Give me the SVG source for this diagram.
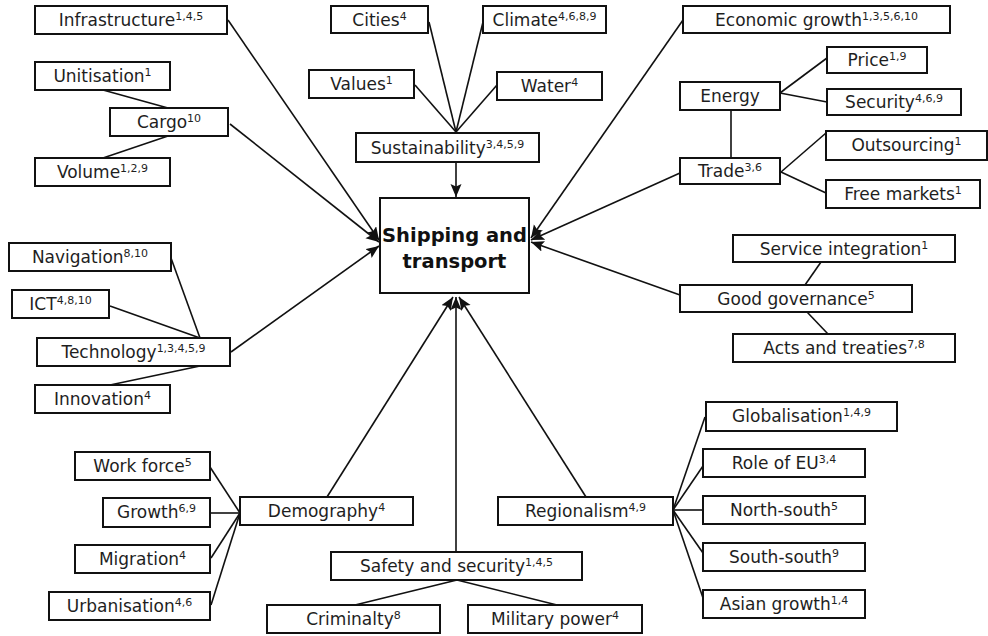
<svg xmlns="http://www.w3.org/2000/svg" width="988" height="636" viewBox="0 0 988 636">
<defs>
<style>
.b{fill:#fff;stroke:#111;stroke-width:2}
.t{font-family:"DejaVu Sans","Liberation Sans",sans-serif;font-size:17px;fill:#1e1e1e;text-anchor:middle}
.s{font-size:11px}
.c line{stroke:#111;stroke-width:1.6}
.a{marker-end:url(#ah)}
.m{font-family:"DejaVu Sans","Liberation Sans",sans-serif;font-size:19.5px;font-weight:bold;fill:#111;text-anchor:middle}
</style>
<marker id="ah" markerUnits="userSpaceOnUse" markerWidth="14" markerHeight="12" refX="13" refY="5.5" orient="auto">
<path d="M0,0 L13,5.5 L0,11 L2.5,5.5 z" fill="#111"/>
</marker>
</defs>
<rect width="988" height="636" fill="#fff"/>
<g id="connectors" class="c">
<line x1="103" y1="90" x2="168" y2="108"/>
<line x1="103" y1="158" x2="168" y2="136"/>
<line class="a" x1="228" y1="20" x2="379" y2="240"/>
<line class="a" x1="230" y1="124" x2="379" y2="242"/>
<line x1="429" y1="22" x2="456" y2="132"/>
<line x1="483" y1="22" x2="456" y2="132"/>
<line x1="415" y1="85" x2="456" y2="132"/>
<line x1="497" y1="85" x2="456" y2="132"/>
<line class="a" x1="456" y1="162" x2="456" y2="197"/>
<line class="a" x1="683" y1="20" x2="531" y2="238"/>
<line x1="780" y1="93" x2="827" y2="58"/>
<line x1="780" y1="93" x2="827" y2="102"/>
<line x1="731" y1="110" x2="731" y2="158"/>
<line x1="781" y1="172" x2="826" y2="133"/>
<line x1="781" y1="172" x2="826" y2="193"/>
<line class="a" x1="680" y1="173" x2="531" y2="240"/>
<line x1="821" y1="262" x2="805" y2="285"/>
<line x1="807" y1="312" x2="828" y2="334"/>
<line class="a" x1="680" y1="295" x2="531" y2="242"/>
<line x1="171" y1="258" x2="200" y2="338"/>
<line x1="110" y1="306" x2="200" y2="338"/>
<line x1="110" y1="385" x2="200" y2="366"/>
<line class="a" x1="231" y1="352" x2="379" y2="246"/>
<line x1="210" y1="467" x2="240" y2="513"/>
<line x1="210" y1="513" x2="240" y2="513"/>
<line x1="211" y1="558" x2="240" y2="513"/>
<line x1="211" y1="605" x2="240" y2="513"/>
<line class="a" x1="327" y1="497" x2="453" y2="297"/>
<line class="a" x1="456" y1="552" x2="456" y2="297"/>
<line x1="457" y1="580" x2="355" y2="605"/>
<line x1="457" y1="580" x2="557" y2="605"/>
<line class="a" x1="586" y1="497" x2="459" y2="297"/>
<line x1="673" y1="510" x2="705" y2="417"/>
<line x1="673" y1="510" x2="703" y2="466"/>
<line x1="673" y1="510" x2="703" y2="510"/>
<line x1="673" y1="510" x2="703" y2="553"/>
<line x1="673" y1="510" x2="703" y2="598"/>
</g>
<g id="center"><rect class="b" x="380" y="198" width="149" height="95"/><text class="m" x="454.5" y="242">Shipping and</text><text class="m" x="454.5" y="268">transport</text></g>
<g id="infrastructure"><rect class="b" x="35" y="6" width="192" height="28"/><text class="t" x="131" y="26">Infrastructure<tspan class="s" dy="-6">1,4,5</tspan></text></g>
<g id="unitisation"><rect class="b" x="35" y="62" width="135" height="28"/><text class="t" x="102.5" y="82">Unitisation<tspan class="s" dy="-6">1</tspan></text></g>
<g id="cargo"><rect class="b" x="110" y="108" width="118" height="28"/><text class="t" x="169" y="128">Cargo<tspan class="s" dy="-6">10</tspan></text></g>
<g id="volume"><rect class="b" x="35" y="158" width="135" height="28"/><text class="t" x="102.5" y="178">Volume<tspan class="s" dy="-6">1,2,9</tspan></text></g>
<g id="cities"><rect class="b" x="331" y="6" width="97" height="27"/><text class="t" x="379.5" y="26">Cities<tspan class="s" dy="-6">4</tspan></text></g>
<g id="climate"><rect class="b" x="483" y="6" width="123" height="27"/><text class="t" x="544.5" y="26">Climate<tspan class="s" dy="-6">4,6,8,9</tspan></text></g>
<g id="values"><rect class="b" x="309" y="70" width="105" height="28"/><text class="t" x="361.5" y="90">Values<tspan class="s" dy="-6">1</tspan></text></g>
<g id="water"><rect class="b" x="497" y="72" width="105" height="28"/><text class="t" x="549.5" y="92">Water<tspan class="s" dy="-6">4</tspan></text></g>
<g id="sustainability"><rect class="b" x="356" y="133" width="183" height="29"/><text class="t" x="447.5" y="154">Sustainability<tspan class="s" dy="-6">3,4,5,9</tspan></text></g>
<g id="economic-growth"><rect class="b" x="683" y="6" width="267" height="27"/><text class="t" x="816.5" y="26">Economic growth<tspan class="s" dy="-6">1,3,5,6,10</tspan></text></g>
<g id="price"><rect class="b" x="827" y="47" width="100" height="26"/><text class="t" x="877" y="66">Price<tspan class="s" dy="-6">1,9</tspan></text></g>
<g id="energy"><rect class="b" x="680" y="82" width="100" height="28"/><text class="t" x="730" y="102">Energy</text></g>
<g id="security"><rect class="b" x="827" y="89" width="134" height="26"/><text class="t" x="894" y="108">Security<tspan class="s" dy="-6">4,6,9</tspan></text></g>
<g id="outsourcing"><rect class="b" x="826" y="131" width="161" height="29"/><text class="t" x="906.5" y="151">Outsourcing<tspan class="s" dy="-6">1</tspan></text></g>
<g id="trade"><rect class="b" x="680" y="158" width="100" height="26"/><text class="t" x="730" y="177">Trade<tspan class="s" dy="-6">3,6</tspan></text></g>
<g id="free-markets"><rect class="b" x="826" y="180" width="154" height="28"/><text class="t" x="903" y="200">Free markets<tspan class="s" dy="-6">1</tspan></text></g>
<g id="service-integration"><rect class="b" x="733" y="235" width="222" height="27"/><text class="t" x="844" y="255">Service integration<tspan class="s" dy="-6">1</tspan></text></g>
<g id="good-governance"><rect class="b" x="680" y="285" width="232" height="27"/><text class="t" x="796" y="305">Good governance<tspan class="s" dy="-6">5</tspan></text></g>
<g id="acts-and-treaties"><rect class="b" x="733" y="334" width="222" height="28"/><text class="t" x="844" y="354">Acts and treaties<tspan class="s" dy="-6">7,8</tspan></text></g>
<g id="navigation"><rect class="b" x="9" y="243" width="162" height="28"/><text class="t" x="90" y="263">Navigation<tspan class="s" dy="-6">8,10</tspan></text></g>
<g id="ict"><rect class="b" x="12" y="290" width="97" height="28"/><text class="t" x="60.5" y="310">ICT<tspan class="s" dy="-6">4,8,10</tspan></text></g>
<g id="technology"><rect class="b" x="37" y="338" width="193" height="28"/><text class="t" x="133.5" y="358">Technology<tspan class="s" dy="-6">1,3,4,5,9</tspan></text></g>
<g id="innovation"><rect class="b" x="35" y="385" width="135" height="28"/><text class="t" x="102.5" y="405">Innovation<tspan class="s" dy="-6">4</tspan></text></g>
<g id="work-force"><rect class="b" x="75" y="452" width="135" height="28"/><text class="t" x="142.5" y="472">Work force<tspan class="s" dy="-6">5</tspan></text></g>
<g id="growth"><rect class="b" x="103" y="498" width="107" height="29"/><text class="t" x="156.5" y="518">Growth<tspan class="s" dy="-6">6,9</tspan></text></g>
<g id="migration"><rect class="b" x="75" y="545" width="135" height="28"/><text class="t" x="142.5" y="565">Migration<tspan class="s" dy="-6">4</tspan></text></g>
<g id="urbanisation"><rect class="b" x="49" y="592" width="161" height="28"/><text class="t" x="129.5" y="612">Urbanisation<tspan class="s" dy="-6">4,6</tspan></text></g>
<g id="demography"><rect class="b" x="240" y="497" width="173" height="28"/><text class="t" x="326.5" y="517">Demography<tspan class="s" dy="-6">4</tspan></text></g>
<g id="safety-and-security"><rect class="b" x="331" y="552" width="251" height="28"/><text class="t" x="456.5" y="572">Safety and security<tspan class="s" dy="-6">1,4,5</tspan></text></g>
<g id="criminalty"><rect class="b" x="267" y="605" width="173" height="28"/><text class="t" x="353.5" y="625">Criminalty<tspan class="s" dy="-6">8</tspan></text></g>
<g id="military-power"><rect class="b" x="468" y="605" width="174" height="28"/><text class="t" x="555" y="625">Military power<tspan class="s" dy="-6">4</tspan></text></g>
<g id="regionalism"><rect class="b" x="498" y="497" width="175" height="28"/><text class="t" x="585.5" y="517">Regionalism<tspan class="s" dy="-6">4,9</tspan></text></g>
<g id="globalisation"><rect class="b" x="706" y="402" width="191" height="29"/><text class="t" x="801.5" y="422">Globalisation<tspan class="s" dy="-6">1,4,9</tspan></text></g>
<g id="role-of-eu"><rect class="b" x="703" y="449" width="162" height="28"/><text class="t" x="784" y="469">Role of EU<tspan class="s" dy="-6">3,4</tspan></text></g>
<g id="north-south"><rect class="b" x="703" y="496" width="162" height="28"/><text class="t" x="784" y="516">North-south<tspan class="s" dy="-6">5</tspan></text></g>
<g id="south-south"><rect class="b" x="703" y="543" width="162" height="28"/><text class="t" x="784" y="563">South-south<tspan class="s" dy="-6">9</tspan></text></g>
<g id="asian-growth"><rect class="b" x="703" y="590" width="162" height="28"/><text class="t" x="784" y="610">Asian growth<tspan class="s" dy="-6">1,4</tspan></text></g>
</svg>
